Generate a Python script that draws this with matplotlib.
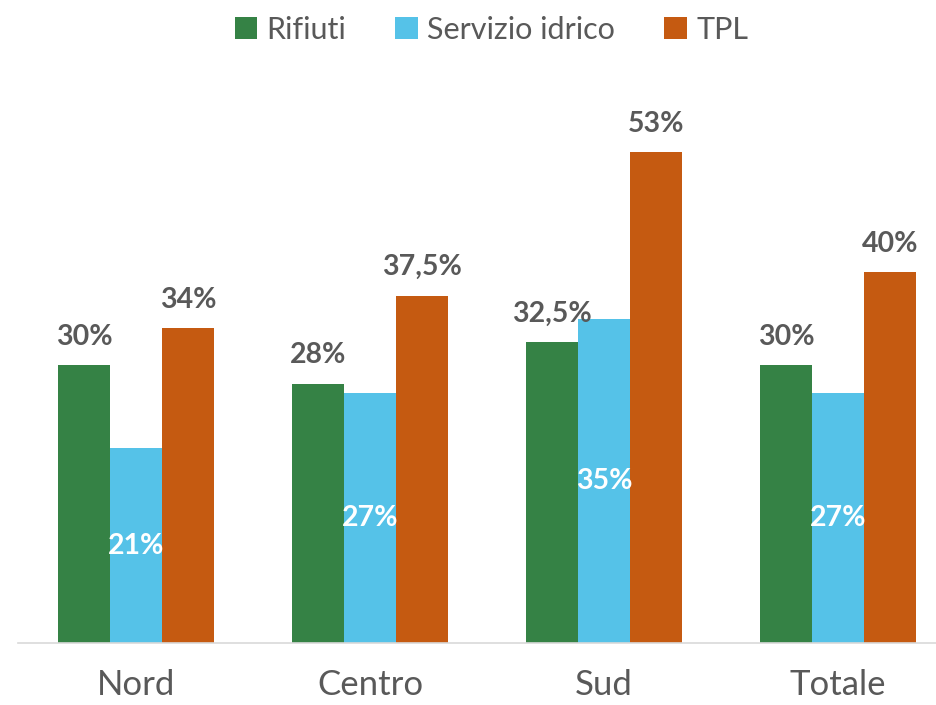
import matplotlib
matplotlib.use("Agg")
import matplotlib.pyplot as plt
import numpy as np

categories = ["Nord", "Centro", "Sud", "Totale"]
series_names = ["Rifiuti", "Servizio idrico", "TPL"]
rifiuti = [30, 28, 32.5, 30]
idrico = [21, 27, 35, 27]
tpl = [34, 37.5, 53, 40]
rifiuti_labels = ["30%", "28%", "32,5%", "30%"]
idrico_labels = ["21%", "27%", "35%", "27%"]
tpl_labels = ["34%", "37,5%", "53%", "40%"]

colors = ["#358245", "#55C2E8", "#C55A11"]
gray = "#595959"

plt.rcParams['font.family'] = ['Lato', 'DejaVu Sans']

fig = plt.figure(figsize=(9.36, 7.05), dpi=100)
ax = fig.add_axes([18/936, 62/705, 918/936, 556/705])

x = np.arange(len(categories))
w = 0.222
b1 = ax.bar(x - w, rifiuti, w, color=colors[0], label=series_names[0])
b2 = ax.bar(x, idrico, w, color=colors[1], label=series_names[1])
b3 = ax.bar(x + w, tpl, w, color=colors[2], label=series_names[2])

lab_fs = 20.5
ax.bar_label(b1, labels=rifiuti_labels, padding=11, fontsize=lab_fs, fontweight='bold', color=gray)
ax.bar_label(b3, labels=tpl_labels, padding=11, fontsize=lab_fs, fontweight='bold', color=gray)
ax.bar_label(b2, labels=idrico_labels, label_type='center', fontsize=lab_fs, fontweight='bold', color='white')

ax.set_xlim(-0.504, 3.419)
ax.set_ylim(0, 60)
ax.set_yticks([])
ax.set_xticks(x)
ax.set_xticklabels(categories, fontsize=25, color=gray)
ax.tick_params(axis='x', length=0, pad=19)
for s in ['top', 'right', 'left']:
    ax.spines[s].set_visible(False)
ax.spines['bottom'].set_color('#D9D9D9')
ax.spines['bottom'].set_linewidth(1.2)

fig.legend(loc='upper center', bbox_to_anchor=(0.525, 1.017), ncol=3, frameon=False,
           fontsize=22, handlelength=0.75, handleheight=0.75, handletextpad=0.3,
           columnspacing=1.6, labelcolor=gray)

fig.savefig("out.png", dpi=100)
